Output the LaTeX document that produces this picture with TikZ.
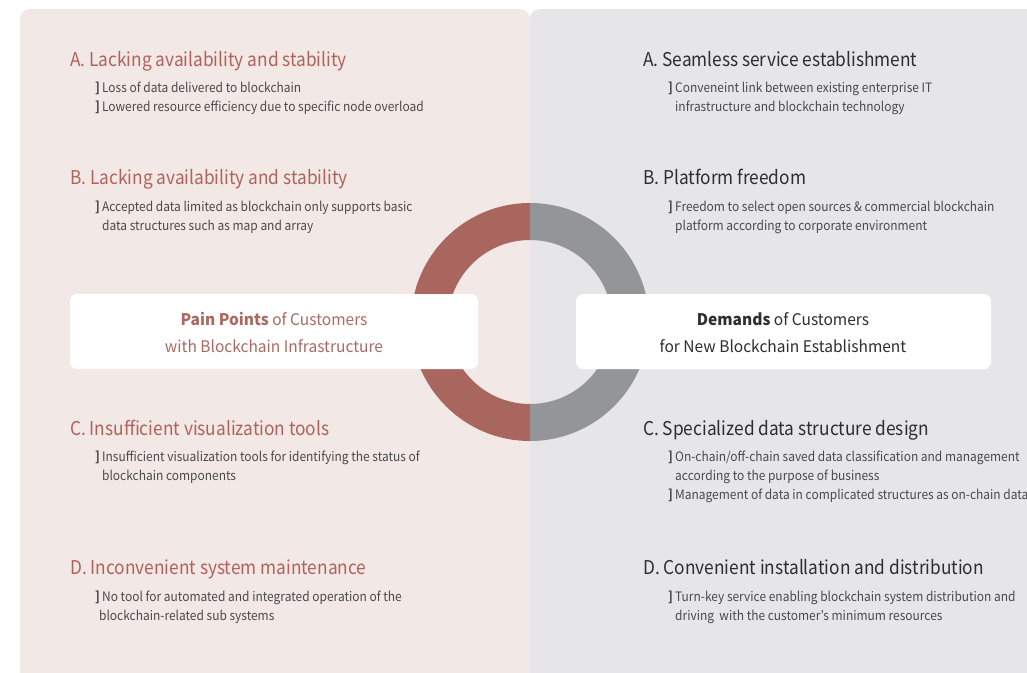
\documentclass[tikz,border=0pt]{standalone}
\usepackage{fontspec}
\setmainfont{Noto Sans CJK KR}
\newfontfamily\headfont[FakeStretch=0.91]{Noto Sans CJK KR}
\newfontfamily\bodyfont[FakeStretch=0.92]{Noto Sans CJK KR}
\newfontfamily\boxfont[FakeStretch=0.97]{Noto Sans CJK KR}
\definecolor{leftbg}{HTML}{F2E8E6}
\definecolor{rightbg}{HTML}{E6E6E8}
\definecolor{ringred}{HTML}{A8665F}
\definecolor{ringgrey}{HTML}{939598}
\definecolor{redtxt}{HTML}{B0625B}
\definecolor{boxred}{HTML}{AA6A63}
\definecolor{bodytxt}{HTML}{4A4A4A}
\definecolor{headtxt}{HTML}{2E2E2E}
\tikzset{
  lhead/.style={anchor=base west, inner sep=0pt, font=\headfont\fontsize{19}{19}\selectfont, text=redtxt},
  rhead/.style={anchor=base west, inner sep=0pt, font=\headfont\fontsize{19}{19}\selectfont, text=headtxt},
  bline/.style={anchor=base west, inner sep=0pt, font=\bodyfont\fontsize{13}{13}\selectfont, text=bodytxt},
  cbox/.style={fill=white, rounded corners=7pt, draw=none},
  ctext/.style={anchor=base, inner sep=0pt, font=\boxfont\fontsize{16}{16}\selectfont}
}
\newcommand{\brk}{\textbf{]}\,}
\begin{document}
\begin{tikzpicture}[x=1pt,y=-1pt]
\useasboundingbox (0,0) rectangle (1027,672);
\fill[white] (0,0) rectangle (1027,672);
% panels
\fill[leftbg, rounded corners=10pt] (20,700) -- (20,9) -- (530,9) -- (530,700) -- cycle;
\fill[rightbg, rounded corners=10pt] (530,700) -- (530,9) -- (1060,9) -- (1060,700) -- cycle;
\fill[leftbg] (20,660) rectangle (528,672);
\fill[rightbg] (530,20) rectangle (1027,672);
\fill[leftbg] (520,20) rectangle (530,672);
% ring
\begin{scope}
\clip (400,180) rectangle (530,460);
\fill[ringred, even odd rule] (530,322) circle[radius=119] (530,322) circle[radius=82];
\end{scope}
\begin{scope}
\clip (530,180) rectangle (660,460);
\fill[ringgrey, even odd rule] (530,322) circle[radius=119] (530,322) circle[radius=82];
\end{scope}
% centre boxes
\node[cbox, minimum width=408pt, minimum height=75pt] (lbox) at (274,331.5) {};
\node[cbox, minimum width=415pt, minimum height=75pt] (rbox) at (783.5,331.5) {};
\node[ctext, text=boxred] (lb1) at (274,325) {\textbf{Pain Points} of Customers};
\node[ctext, text=boxred] (lb2) at (274,352) {with Blockchain Infrastructure};
\node[ctext, text=headtxt] (rb1) at (783,325) {\textbf{Demands} of Customers};
\node[ctext, text=headtxt] (rb2) at (783,352) {for New Blockchain Establishment};
% left texts
\node[lhead] (la) at (70,66) {A. Lacking availability and stability};
\node[bline] (la1) at (95,92) {\brk Loss of data delivered to blockchain};
\node[bline] (la2) at (95,111) {\brk Lowered resource efficiency due to specific node overload};
\node[lhead] (lbh) at (70,184) {B. Lacking availability and stability};
\node[bline] (lb1t) at (95,211) {\brk Accepted data limited as blockchain only supports basic};
\node[bline] (lb2t) at (102,230) {data structures such as map and array};
\node[lhead] (lc) at (70,435) {C. Insufficient visualization tools};
\node[bline] (lc1) at (95,461) {\brk Insufficient visualization tools for identifying the status of};
\node[bline] (lc2) at (102,480) {blockchain components};
\node[lhead] (ld) at (70,574) {D. Inconvenient system maintenance};
\node[bline] (ld1) at (95,601) {\brk No tool for automated and integrated operation of the};
\node[bline] (ld2) at (99,620) {blockchain-related sub systems};
% right texts
\node[rhead] (ra) at (643,66) {A. Seamless service establishment};
\node[bline] (ra1) at (668,92) {\brk Conveneint link between existing enterprise IT};
\node[bline] (ra2) at (675,111) {infrastructure and blockchain technology};
\node[rhead] (rbh) at (643,184) {B. Platform freedom};
\node[bline] (rb1t) at (668,211) {\brk Freedom to select open sources \& commercial blockchain};
\node[bline] (rb2t) at (675,230) {platform according to corporate environment};
\node[rhead] (rc) at (643,435) {C. Specialized data structure design};
\node[bline] (rc1) at (668,461) {\brk On-chain/off-chain saved data classification and management};
\node[bline] (rc2) at (675,480) {according to the purpose of business};
\node[bline] (rc3) at (668,499) {\brk Management of data in complicated structures as on-chain data};
\node[rhead] (rd) at (643,574) {D. Convenient installation and distribution};
\node[bline] (rd1) at (668,601) {\brk Turn-key service enabling blockchain system distribution and};
\node[bline] (rd2) at (675,620) {driving\ \ with the customer’s minimum resources};
\end{tikzpicture}
\end{document}
